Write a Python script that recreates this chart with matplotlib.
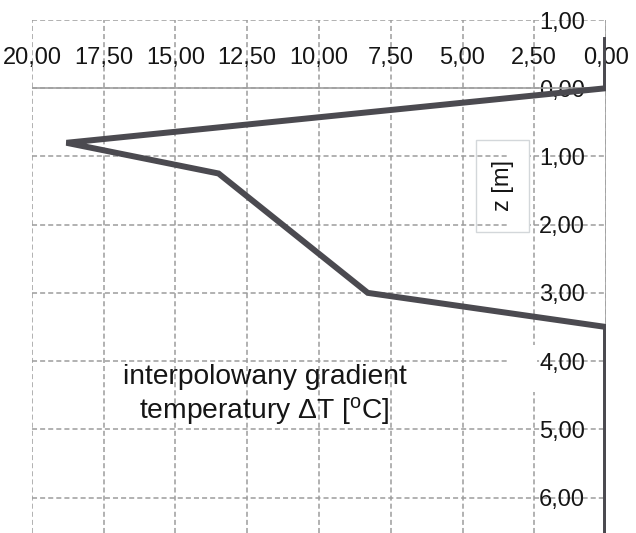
import matplotlib
matplotlib.use("Agg")
import matplotlib.pyplot as plt
from matplotlib.ticker import FixedLocator, FuncFormatter
from matplotlib.patches import Rectangle

plt.rcParams['font.family'] = ['Liberation Sans', 'DejaVu Sans']
plt.rcParams['mathtext.fontset'] = 'custom'
plt.rcParams['mathtext.rm'] = 'Liberation Sans'
plt.rcParams['mathtext.it'] = 'Liberation Sans:italic'

# data: temperature gradient dT [C] vs depth z [m]
dT = [0.0, 0.0, 18.8, 13.5, 8.3, 0.0, 0.0]
z = [-0.75, 0.0, 0.8, 1.25, 3.0, 3.5, 6.8]

x_ticks = [20, 17.5, 15, 12.5, 10, 7.5, 5, 2.5, 0]
y_ticks = [-1, 0, 1, 2, 3, 4, 5, 6]
x_title = "interpolowany gradient\ntemperatury \u0394T [$^{\\mathrm{o}}$C]"
y_title = "z [m]"

W, H = 636, 533
fig = plt.figure(figsize=(W / 100, H / 100), dpi=100)
ax = fig.add_axes([32 / W, 0, (606 - 32) / W, (H - 20) / H])

ax.set_xlim(20, 0)
ax.set_ylim(6.52, -1)
for s in ax.spines.values():
    s.set_visible(False)

ax.xaxis.set_major_locator(FixedLocator(x_ticks))
ax.yaxis.set_major_locator(FixedLocator(y_ticks))
ax.xaxis.set_major_formatter(FuncFormatter(lambda v, p: f"{v:.2f}".replace('.', ',')))
ax.yaxis.set_major_formatter(FuncFormatter(lambda v, p: f"{abs(v):.2f}".replace('.', ',')))

ax.xaxis.tick_top()
ax.yaxis.tick_right()
ax.tick_params(axis='x', length=0, pad=-27.5, labelsize=17, colors='#151515')
ax.tick_params(axis='y', length=0, pad=-15, labelsize=17, colors='#151515')
for t in ax.get_xticklabels():
    t.set_va('center')
for t in ax.get_yticklabels():
    t.set_ha('right')

grid_color = '#9c9c9c'
ax.set_axisbelow(True)
ax.grid(True, color=grid_color, linewidth=1.1, linestyle=(0, (3.3, 2.0)))
ax.axhline(0, color='#a0a0a0', linewidth=1.2, zorder=0.8)
ax.axvline(0, color='#a0a0a0', linewidth=1.2, zorder=0.8)

# white patches hiding parts of the grid (as in the reference)
ax.add_patch(Rectangle((3.41, 0.76), -0.76, 1.35, facecolor='white', edgecolor='none', zorder=0.9))
ax.add_patch(Rectangle((3.41, 3.76), -1.0, 0.69, facecolor='white', edgecolor='none', zorder=0.9))
# box of the depth label
ax.add_patch(Rectangle((4.53, 0.76), -1.85, 1.35, facecolor='none', edgecolor='#d3d7da', linewidth=1.0, zorder=1))
ax.text(3.6, 1.43, y_title, rotation=90, ha='center', va='center', fontsize=17, color='#151515', zorder=3)

ax.plot(dT, z, color='#4b4a50', linewidth=4.3, solid_joinstyle='miter', solid_capstyle='butt', zorder=2)

ax.text(11.9, 4.5, x_title, ha='center', va='center', fontsize=20.3, color='#151515', linespacing=1.2)

fig.savefig("out.png", dpi=100)
